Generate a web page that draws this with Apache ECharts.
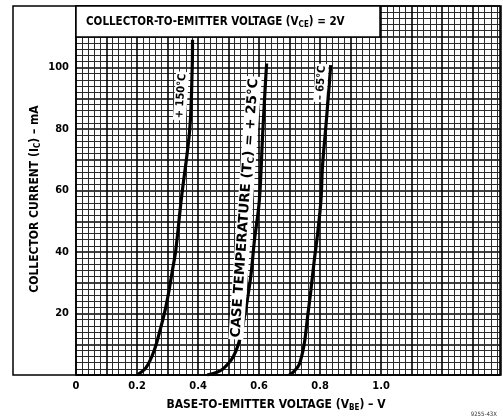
<!DOCTYPE html>
<html><head><meta charset="utf-8">
<script src="https://cdn.jsdelivr.net/npm/echarts@6/dist/echarts.min.js"></script>
<style>html,body{margin:0;padding:0;background:#fff}#c{width:503px;height:418px}</style>
</head><body><div id="c"></div>
<script>
// ---- data ----
const xTickLabels = ['0', '0.2', '0.4', '0.6', '0.8', '1.0'];
const yTickLabels = ['20', '40', '60', '80', '100'];

const vbeHot150 = [0.200, 0.229, 0.256, 0.278, 0.292, 0.305, 0.316, 0.327, 0.345, 0.373, 0.381, 0.382];
const icHot150  = [0, 2.3, 7.9, 15.5, 21, 27.5, 34, 40.5, 57, 80, 100, 109];

const vbeRoom25 = [0.430, 0.460, 0.481, 0.514, 0.536, 0.552, 0.563, 0.574, 0.585, 0.601, 0.612, 0.621, 0.625];
const icRoom25  = [0, 0.8, 1.9, 5.7, 11.2, 18.8, 25.3, 32.9, 43.8, 56.7, 78.5, 94.9, 101.3];

const vbeCold65 = [0.699, 0.715, 0.732, 0.748, 0.759, 0.770, 0.781, 0.792, 0.803, 0.808, 0.819, 0.828, 0.835];
const icCold65  = [0, 1.2, 3.5, 10, 18.8, 27.5, 37.2, 45.9, 56.8, 67.7, 80.7, 91.6, 100.8];

const FONT = '"Liberation Sans Narrow","DejaVu Sans Condensed","Arial Narrow",sans-serif';
const WIDE = '"DejaVu Sans",sans-serif';
function pairs(xs, ys) { return xs.map((x, i) => [x, ys[i]]); }

const chart = echarts.init(document.getElementById('c'), null, { renderer: 'canvas' });
const L = 76, T = 6, R = 501, B = 375;
const tilt = (90 - 4) * Math.PI / 180;
const subStyle = { font: 'bold 8px ' + FONT, padding: [6, 0, 0, 0], fill: '#000' };

function curve(name, xs, ys) {
  return {
    name: name, type: 'line', data: pairs(xs, ys), smooth: 0.35,
    symbol: 'none', lineStyle: { color: '#000', width: 3.2 }, z: 5
  };
}

const option = {
  animation: false,
  backgroundColor: '#fff',
  grid: { left: L, top: T, width: R - L, height: B - T, show: false },
  xAxis: {
    type: 'value', min: 0, max: 1.39, interval: 0.1,
    axisLine: { show: true, onZero: false, lineStyle: { color: '#000', width: 1.5 } },
    axisTick: { show: false },
    axisLabel: {
      margin: 6, color: '#000', fontFamily: FONT, fontWeight: 'bold', fontSize: 11,
      formatter: function (v) {
        const k = Math.round(v * 10);
        if (Math.abs(v * 10 - k) < 1e-6 && k % 2 === 0 && k <= 10) return xTickLabels[k / 2];
        return '';
      }
    },
    splitLine: { show: true, lineStyle: { color: '#000', width: 1.6 } },
    minorTick: { show: false, splitNumber: 5 },
    minorSplitLine: { show: true, lineStyle: { color: '#2a2a2a', width: 1 } }
  },
  yAxis: {
    type: 'value', min: 0, max: 120, interval: 10,
    axisLine: { show: true, lineStyle: { color: '#000', width: 1.5 } },
    axisTick: { show: false },
    axisLabel: {
      margin: 7, color: '#000', fontFamily: FONT, fontWeight: 'bold', fontSize: 11,
      formatter: function (v) {
        const k = Math.round(v);
        if (k % 20 === 0 && k >= 20 && k <= 100) return yTickLabels[k / 20 - 1];
        return '';
      }
    },
    splitLine: { show: true, lineStyle: { color: '#000', width: 1.6 } },
    minorTick: { show: false, splitNumber: 5 },
    minorSplitLine: { show: true, lineStyle: { color: '#2a2a2a', width: 1 } }
  },
  series: [
    curve('+150°C', vbeHot150, icHot150),
    curve('+25°C', vbeRoom25, icRoom25),
    curve('-65°C', vbeCold65, icCold65)
  ],
  graphic: [
    { type: 'rect', z: 50, shape: { x: 13, y: 6, width: 488, height: 369 },
      style: { fill: null, stroke: '#000', lineWidth: 1.5 } },
    { type: 'rect', z: 60, shape: { x: 76, y: 6, width: 304, height: 31 },
      style: { fill: '#fff', stroke: '#000', lineWidth: 1.5 } },
    { type: 'text', z: 61, x: 86, y: 22,
      style: { text: 'COLLECTOR-TO-EMITTER VOLTAGE (V{s|CE}) = 2V', font: 'bold 11.5px ' + FONT,
               fill: '#000', align: 'left', verticalAlign: 'middle', rich: { s: subStyle } } },
    { type: 'text', z: 61, x: 181, y: 96, rotation: tilt,
      style: { text: '+ 150°C', font: 'bold 11px ' + FONT, fill: '#000', align: 'center',
               verticalAlign: 'middle', backgroundColor: '#fff', padding: [1, 2, 1, 2] } },
    { type: 'text', z: 61, x: 245, y: 208, rotation: tilt,
      style: { text: 'CASE TEMPERATURE (T{s|C}) = + 25°C', font: 'bold 13.5px ' + WIDE, fill: '#000',
               align: 'center', verticalAlign: 'middle', backgroundColor: '#fff', padding: [0, 2, 0, 2],
               rich: { s: { font: 'bold 9px ' + WIDE, padding: [6, 0, 0, 0], fill: '#000' } } } },
    { type: 'text', z: 61, x: 321, y: 83, rotation: tilt,
      style: { text: '– 65°C', font: 'bold 11px ' + FONT, fill: '#000', align: 'center',
               verticalAlign: 'middle', backgroundColor: '#fff', padding: [1, 2, 1, 2] } },
    { type: 'text', z: 61, x: 35, y: 199, rotation: Math.PI / 2,
      style: { text: 'COLLECTOR CURRENT (I{s|C}) – mA', font: 'bold 12px ' + FONT, fill: '#000',
               align: 'center', verticalAlign: 'middle', rich: { s: subStyle } } },
    { type: 'text', z: 61, x: 276, y: 405,
      style: { text: 'BASE-TO-EMITTER VOLTAGE (V{s|BE}) – V', font: 'bold 12px ' + FONT, fill: '#000',
               align: 'center', verticalAlign: 'middle', rich: { s: subStyle } } },
    { type: 'text', z: 61, x: 497, y: 414,
      style: { text: '9255-43X', font: '6px ' + FONT, fill: '#333', align: 'right', verticalAlign: 'middle' } }
  ]
};
chart.setOption(option);
</script>
</body></html>
